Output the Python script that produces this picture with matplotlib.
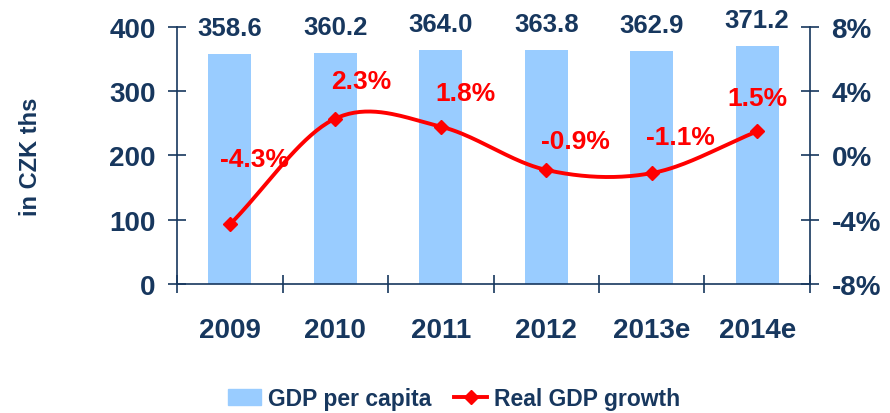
import numpy as np
import matplotlib
matplotlib.use("Agg")
import matplotlib.pyplot as plt
from matplotlib.lines import Line2D
from matplotlib.patches import Patch

years = ["2009", "2010", "2011", "2012", "2013e", "2014e"]
gdp_per_capita = [358.6, 360.2, 364.0, 363.8, 362.9, 371.2]
real_growth = [-4.3, 2.3, 1.8, -0.9, -1.1, 1.5]

NAVY = "#17375E"
BAR = "#99CCFF"
RED = "#FF0000"

plt.rcParams["font.family"] = ["Liberation Sans", "DejaVu Sans"]
plt.rcParams["font.weight"] = "bold"


def catmull_rom(xs, ys, n=40):
    # Excel-like smoothed line through the points
    xs = np.asarray(xs, float)
    ys = np.asarray(ys, float)
    px = np.concatenate([[2 * xs[0] - xs[1]], xs, [2 * xs[-1] - xs[-2]]])
    py = np.concatenate([[2 * ys[0] - ys[1]], ys, [2 * ys[-1] - ys[-2]]])
    out_x, out_y = [], []
    t = np.linspace(0, 1, n)
    for i in range(1, len(px) - 2):
        for p, out in ((px, out_x), (py, out_y)):
            p0, p1, p2, p3 = p[i - 1], p[i], p[i + 1], p[i + 2]
            seg = 0.5 * ((2 * p1) + (-p0 + p2) * t
                         + (2 * p0 - 5 * p1 + 4 * p2 - p3) * t ** 2
                         + (-p0 + 3 * p1 - 3 * p2 + p3) * t ** 3)
            out.extend(seg)
    return np.array(out_x), np.array(out_y)


fig = plt.figure(figsize=(8.9, 4.14), dpi=100)
ax = fig.add_axes([0.199, 0.312, 0.711, 0.620])
x = np.arange(len(years))

ax.bar(x, gdp_per_capita, width=0.41, color=BAR, zorder=1)
for xi, v in zip(x, gdp_per_capita):
    ax.annotate(f"{v:.1f}", (xi, v), xytext=(0, 10), textcoords="offset points",
                ha="center", va="bottom", color=NAVY,
                fontsize=18.5, fontweight="bold", annotation_clip=False)

ax.set_xlim(-0.5, len(years) - 0.5)
ax.set_ylim(0, 400)
ax.set_yticks([0, 100, 200, 300, 400])
ax.set_xticks(x)
ax.set_xticklabels(years)
ax.set_xticks(np.arange(-0.5, len(years)), minor=True)
ax.tick_params(axis="x", which="major", length=0, pad=24, labelsize=20,
               labelcolor=NAVY)
ax.tick_params(axis="x", which="minor", direction="inout", length=13,
               color=NAVY, width=1.2)
ax.tick_params(axis="y", direction="inout", length=13, color=NAVY, width=1.2,
               labelsize=20, labelcolor=NAVY, pad=9)
for lbl in ax.get_xticklabels() + ax.get_yticklabels():
    lbl.set_fontweight("bold")
for s in ("top", "right"):
    ax.spines[s].set_visible(False)
for s in ("left", "bottom"):
    ax.spines[s].set_color(NAVY)
    ax.spines[s].set_linewidth(1.2)
ax.set_ylabel("in CZK ths", color=NAVY, fontsize=17, fontweight="bold")
ax.yaxis.set_label_coords(-0.213, 0.5)

ax2 = ax.twinx()
ax2.set_ylim(-8, 8)
ax2.set_yticks([-8, -4, 0, 4, 8])
ax2.set_yticklabels([f"{t}%" for t in [-8, -4, 0, 4, 8]])
ax2.tick_params(axis="y", direction="inout", length=13, color=NAVY, width=1.2,
                labelsize=20, labelcolor=NAVY, pad=9)
for lbl in ax2.get_yticklabels():
    lbl.set_fontweight("bold")
for s in ("top", "left", "bottom"):
    ax2.spines[s].set_visible(False)
ax2.spines["right"].set_color(NAVY)
ax2.spines["right"].set_linewidth(1.2)

sx, sy = catmull_rom(x, real_growth)
ax2.plot(sx, sy, color=RED, lw=2.8, zorder=3)
ax2.plot(x, real_growth, ls="none", marker="D", ms=7.5, color=RED, zorder=4)

label_offsets = [(18, 47), (19, 27), (18, 24), (21, 21), (21, 26), (0, 24)]
for xi, v, (dx, dy) in zip(x, real_growth, label_offsets):
    ax2.annotate(f"{v:.1f}%", (xi, v), xytext=(dx, dy),
                 textcoords="offset points", ha="center", va="center",
                 color=RED, fontsize=19, fontweight="bold")

handles = [Patch(color=BAR),
           Line2D([0], [0], color=RED, lw=2.8, marker="D", ms=7.5)]
leg = fig.legend(handles, ["GDP per capita", "Real GDP growth"],
                 loc="center", bbox_to_anchor=(0.51, 0.035), ncol=2,
                 frameon=False, fontsize=16.5, handlelength=1.45,
                 columnspacing=1.0, handletextpad=0.3)
for t in leg.get_texts():
    t.set_color(NAVY)
    t.set_fontweight("bold")

fig.savefig("out.png", dpi=100)
